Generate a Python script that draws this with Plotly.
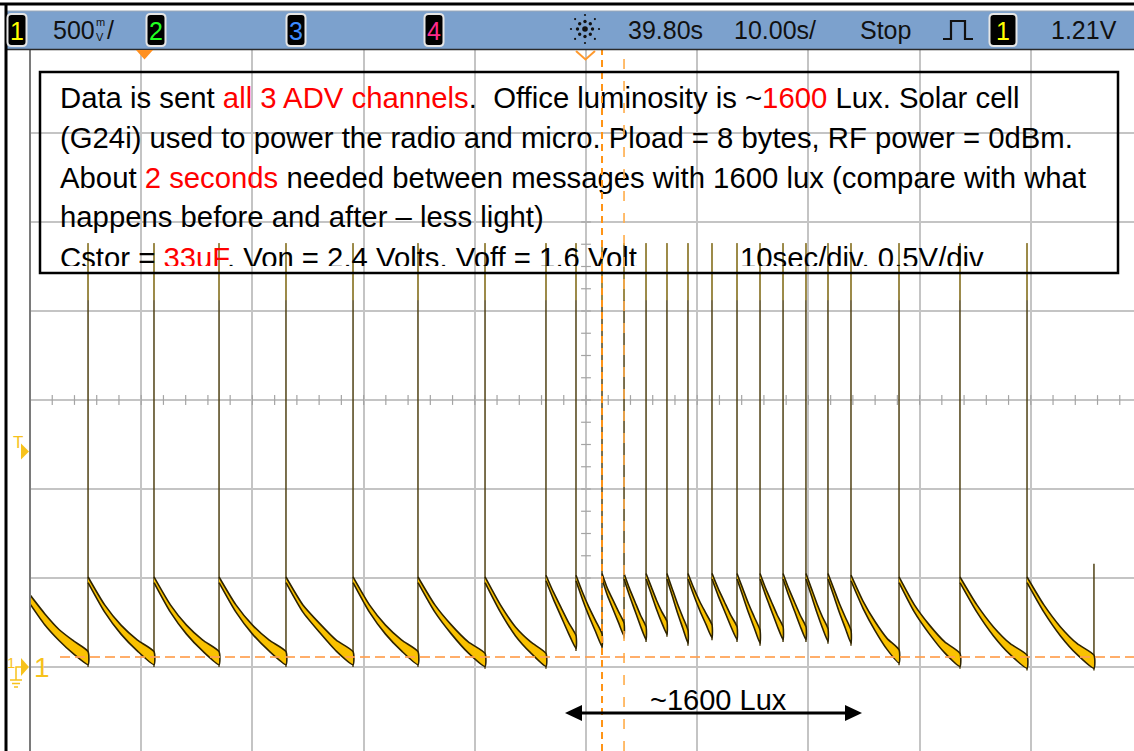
import numpy as np
import plotly.graph_objects as go

W, H = 1134, 751

# ---------------- values ----------------
# scope settings
t_center = 39.80      # s, horizontal delay (screen centre)
t_per_div = 10.0      # s/div
v_per_div = 0.5       # V/div
trig_level = 1.21     # V
cursor_t = [41.24, 43.22]   # s, vertical dashed cursors
cursor_v = 0.056            # V, horizontal dashed cursor

# times (s) of the radio bursts (vertical spikes)
spike_t = [-4.98, 0.95, 6.80, 12.82, 18.85, 24.69, 30.72, 36.20, 38.90, 41.24,
           43.22, 45.20, 47.08, 48.97, 51.13, 53.38, 55.45, 57.52, 59.58, 61.56,
           63.63, 67.95, 73.43, 79.46, 85.48]
# top of each spike (V)
spike_top_v = [2.38, 2.38, 2.38, 2.38, 2.38, 2.38, 2.38, 2.38, 2.38, 2.38,
               2.38, 2.38, 2.38, 2.38, 2.38, 2.38, 2.38, 2.38, 2.38, 2.38,
               2.38, 2.38, 2.38, 2.38, 0.58]
# voltage of each decay segment at 0 %, 25 %, 50 %, 75 % and 100 % of its length
v_0 = [0.38, 0.49, 0.49, 0.49, 0.49, 0.49, 0.49, 0.49, 0.50, 0.50, 0.51, 0.51, 0.51,
       0.51, 0.51, 0.51, 0.51, 0.51, 0.51, 0.51, 0.51, 0.50, 0.49, 0.49, 0.49]
v_25 = [0.27, 0.33, 0.33, 0.33, 0.33, 0.33, 0.33, 0.33, 0.40, 0.40, 0.42, 0.42, 0.43,
        0.42, 0.42, 0.42, 0.42, 0.42, 0.42, 0.42, 0.42, 0.35, 0.33, 0.33, 0.33]
v_50 = [0.18, 0.21, 0.21, 0.21, 0.22, 0.21, 0.21, 0.20, 0.31, 0.31, 0.35, 0.34, 0.35,
        0.33, 0.34, 0.34, 0.33, 0.34, 0.34, 0.33, 0.33, 0.23, 0.21, 0.20, 0.20]
v_75 = [0.11, 0.12, 0.12, 0.12, 0.12, 0.12, 0.11, 0.11, 0.22, 0.23, 0.28, 0.26, 0.28,
        0.25, 0.27, 0.26, 0.25, 0.26, 0.26, 0.25, 0.25, 0.13, 0.11, 0.10, 0.10]
v_100 = [0.05, 0.05, 0.05, 0.05, 0.05, 0.05, 0.04, 0.04, 0.14, 0.15, 0.21, 0.19, 0.22,
         0.17, 0.20, 0.19, 0.17, 0.19, 0.19, 0.18, 0.17, 0.06, 0.04, 0.03, 0.03]

# header readouts
hdr_scale = "500"
hdr_delay = "39.80s"
hdr_timebase = "10.00s/"
hdr_state = "Stop"
hdr_trig = "1.21V"

RED = "#ff0000"
box_lines = [
    'Data is sent <span style="color:%s">all 3 ADV channels</span>.\u00a0 Office luminosity is ~<span style="color:%s">1600</span> Lux. Solar cell' % (RED, RED),
    '(G24i) used to power the radio and micro. Pload = 8 bytes, RF power = 0dBm.',
    'About <span style="color:%s">2 seconds</span> needed between messages with 1600 lux (compare with what' % RED,
    'happens before and after \u2013 less light)',
    'Cstor = <span style="color:%s">33uF</span>. Von = 2.4 Volts. Voff = 1.6 Volt' % RED,
]
box_line5b = '10sec/div. 0.5V/div'
arrow_label = '~1600 Lux'

# ---------------- geometry of the screen (pixels) ----------------
GX0 = 30            # left edge of graticule
PX_DIV_X = 111.2    # pixels per horizontal division
PX_DIV_Y = 89.0     # pixels per vertical division
Y_GND = 667         # pixel row of 0 V
GY_TOP = 45         # top of graticule

px_per_s = PX_DIV_X / t_per_div
px_per_v = PX_DIV_Y / v_per_div
t_left = t_center - 5 * t_per_div
x_range = [t_left, t_left + (W - GX0) / px_per_s]
y_range = [(Y_GND - H) / px_per_v, (Y_GND - GY_TOP) / px_per_v]


def PX(x):
    return x / W


def PY(y):
    return 1 - y / H


GOLD = "#f7c21b"
FONT = "Liberation Sans, Arial, sans-serif"
HFONT = "Liberation Sans, Arial, sans-serif"

# ---------------- waveform ----------------
seg_start = [x_range[0]] + spike_t[:-1]
seg_end = spike_t
fracs = [0.0, 0.25, 0.5, 0.75, 1.0]
band_halfwidth_px = [2.8, 3.6, 4.5, 5.5, 6.5]   # display persistence band (style)
bx, by = [], []
for i in range(len(seg_start)):
    vals = [v_0[i], v_25[i], v_50[i], v_75[i], v_100[i]]
    xs = [seg_start[i] + f * (seg_end[i] - seg_start[i]) for f in fracs]
    if i == 0:
        hws = [band_halfwidth_px[2], band_halfwidth_px[3], band_halfwidth_px[3],
               band_halfwidth_px[4], band_halfwidth_px[4]]
    else:
        hws = band_halfwidth_px
    up = [(x, v + hw / px_per_v) for x, v, hw in zip(xs, vals, hws)]
    lo = [(x, v - hw / px_per_v) for x, v, hw in zip(xs, vals, hws)]
    poly_pts = up + lo[::-1]
    bx += [p[0] for p in poly_pts] + [None]
    by += [p[1] for p in poly_pts] + [None]

sx, sy, tx, ty = [], [], [], []
for k, t in enumerate(spike_t):
    bottom = v_100[k] - 0.05
    sx += [t, t, None]
    sy += [bottom, spike_top_v[k], None]
    if spike_top_v[k] > 2:
        tx += [t, t, None]
        ty += [spike_top_v[k], spike_top_v[k] - 0.32, None]

fig = go.Figure()
fig.add_trace(go.Scatter(x=sx, y=sy, mode="lines", line=dict(color="#4f4114", width=1.5),
                         hoverinfo="skip", showlegend=False))
fig.add_trace(go.Scatter(x=tx, y=ty, mode="lines", line=dict(color="#a89448", width=1.5),
                         hoverinfo="skip", showlegend=False))
fig.add_trace(go.Scatter(x=bx, y=by, mode="lines", fill="toself", fillcolor="#f9c100",
                         line=dict(color="#2e2300", width=1.6, shape="spline", smoothing=0.6),
                         hoverinfo="skip", showlegend=False))

# minor ticks on the centre lines
v_center = 3 * v_per_div   # centre row of the screen (1.5 V)
mt_x = [t_center + k * t_per_div / 5 for k in range(-25, 26)]
fig.add_trace(go.Scatter(x=mt_x, y=[v_center] * len(mt_x), mode="markers",
                         marker=dict(symbol="line-ns", size=7, line=dict(width=1.2, color="#a4a4a4")),
                         hoverinfo="skip", showlegend=False))
mt_y = [v_center + k * v_per_div / 4 for k in range(-8, 9)]
fig.add_trace(go.Scatter(x=[t_center] * len(mt_y), y=mt_y, mode="markers",
                         marker=dict(symbol="line-ew", size=7, line=dict(width=1.2, color="#a4a4a4")),
                         hoverinfo="skip", showlegend=False))

# text in the annotation box (clipped by its own subplot)
line_y = [101, 141, 180.5, 220, 260.5]
fig.add_trace(go.Scatter(x=[60] * 5, y=line_y, mode="text", text=box_lines,
                         textposition="middle right", cliponaxis=True,
                         textfont=dict(family=FONT, size=29.3, color="black"),
                         xaxis="x2", yaxis="y2", hoverinfo="skip", showlegend=False))
fig.add_trace(go.Scatter(x=[740], y=[260.5], mode="text", text=[box_line5b],
                         textposition="middle right", cliponaxis=True,
                         textfont=dict(family=FONT, size=29.3, color="black"),
                         xaxis="x2", yaxis="y2", hoverinfo="skip", showlegend=False))

shapes = []
# cursors
for t, col, dash, w in zip(cursor_t, ["#ff9416", "#ffad4a"], ["7px,5px", "10px,12px"], [2, 1.6]):
    shapes.append(dict(type="line", xref="x", yref="y", x0=t, x1=t, y0=y_range[0], y1=y_range[1],
                       line=dict(color=col, width=w, dash=dash), layer="above"))
shapes.append(dict(type="line", xref="x", yref="y", x0=t_left + (60 - GX0) / px_per_s, x1=x_range[1],
                   y0=cursor_v, y1=cursor_v,
                   line=dict(color="rgba(255,160,80,0.85)", width=2, dash="10px,5px"), layer="above"))
# graticule left edge
shapes.append(dict(type="line", xref="paper", yref="paper", x0=PX(GX0), x1=PX(GX0), y0=0, y1=PY(49),
                   line=dict(color="#7a7a7a", width=2), layer="above"))
# text box frame
shapes.append(dict(type="rect", xref="paper", yref="paper", x0=PX(40), x1=PX(1118), y0=PY(273), y1=PY(72),
                   line=dict(color="black", width=2.5), fillcolor="rgba(0,0,0,0)", layer="above"))
# header bar
shapes.append(dict(type="rect", xref="paper", yref="paper", x0=PX(7), x1=1.0, y0=PY(49), y1=PY(11),
                   line=dict(width=0), fillcolor="#7ca1cd", layer="above"))
shapes.append(dict(type="line", xref="paper", yref="paper", x0=PX(7), x1=1.0, y0=PY(49.5), y1=PY(49.5),
                   line=dict(color="#2a2a2a", width=1.5), layer="above"))
shapes.append(dict(type="line", xref="paper", yref="paper", x0=PX(7), x1=1.0, y0=PY(11), y1=PY(11),
                   line=dict(color="#9aa8b8", width=1), layer="above"))
# outer black frame lines
shapes.append(dict(type="line", xref="paper", yref="paper", x0=0, x1=1, y0=PY(4), y1=PY(4),
                   line=dict(color="black", width=3), layer="above"))
shapes.append(dict(type="line", xref="paper", yref="paper", x0=PX(6), x1=PX(6), y0=0, y1=PY(3),
                   line=dict(color="black", width=3), layer="above"))


def f5(v):
    return "%.5f" % v


def rrect(x0, y0, x1, y1, r):
    p = [("M", x0 + r, y0), ("L", x1 - r, y0), ("Q", x1, y0, x1, y0 + r), ("L", x1, y1 - r),
         ("Q", x1, y1, x1 - r, y1), ("L", x0 + r, y1), ("Q", x0, y1, x0, y1 - r), ("L", x0, y0 + r),
         ("Q", x0, y0, x0 + r, y0)]
    s = ""
    for c in p:
        if c[0] == "Q":
            s += "Q%s,%s %s,%s " % (f5(PX(c[1])), f5(PY(c[2])), f5(PX(c[3])), f5(PY(c[4])))
        else:
            s += "%s%s,%s " % (c[0], f5(PX(c[1])), f5(PY(c[2])))
    return s + "Z"


def poly(pts, close=True):
    s = "M" + " L".join("%s,%s" % (f5(PX(x)), f5(PY(y))) for x, y in pts)
    return s + (" Z" if close else "")


annotations = []


def ann(x, y, text, size, color="black", family=FONT, xanchor="left"):
    annotations.append(dict(xref="paper", yref="paper", x=PX(x), y=PY(y), text=text, showarrow=False,
                            xanchor=xanchor, yanchor="middle", borderpad=0,
                            font=dict(family=family, size=size, color=color)))


# channel badges
badges = [(17, 19, "1", "#ffff00"), (156, 19, "2", "#22ff22"), (296, 19, "3", "#3d8bff"),
          (434, 19, "4", "#ff2a8a"), (1003, 27, "1", "#ffff00")]
for cx, bw, lab, col in badges:
    shapes.append(dict(type="path", xref="paper", yref="paper",
                       path=rrect(cx - bw / 2, 14, cx + bw / 2, 46, 4),
                       fillcolor="black", line=dict(color="#e6e6e6", width=2), layer="above"))
    ann(cx, 30.5, lab, 25, col, HFONT, "center")

# header texts
ann(52, 29.5, hdr_scale, 25, "#111", HFONT)
ann(100, 22.5, "m", 11, "#111", FONT, "center")
ann(100, 36.5, "V", 11, "#111", FONT, "center")
ann(106, 29.5, "/", 25, "#111", HFONT)
ann(627, 29.5, hdr_delay, 25, "#111", HFONT)
ann(733, 29.5, hdr_timebase, 25, "#111", HFONT)
ann(859, 29.5, hdr_state, 25, "#111", HFONT)
ann(1050, 29.5, hdr_trig, 25, "#111", HFONT)

# trigger-mode pulse icon
shapes.append(dict(type="path", xref="paper", yref="paper",
                   path=poly([(943, 39), (951, 39), (951, 21), (965, 21), (965, 39), (973, 39)], False),
                   line=dict(color="#111", width=2.2), layer="above"))

# sunburst icon
cxs, cys = 585, 29
circles = [(0, 0, 2.8)]
for k in range(8):
    a = k * np.pi / 4
    circles.append((7.5 * np.cos(a), 7.5 * np.sin(a), 1.7))
    circles.append((14 * np.cos(a), 14 * np.sin(a), 1.1))
for ox, oy, r in circles:
    shapes.append(dict(type="circle", xref="paper", yref="paper",
                       x0=PX(cxs + ox - r), x1=PX(cxs + ox + r), y0=PY(cys + oy + r), y1=PY(cys + oy - r),
                       fillcolor="#111", line=dict(width=0), layer="above"))

# trigger position chevron and ch2 marker triangle
shapes.append(dict(type="path", xref="paper", yref="paper", path=poly([(576, 51), (585.5, 59.5), (595, 51)], False),
                   line=dict(color="#ff9a2e", width=2), layer="above"))
shapes.append(dict(type="path", xref="paper", yref="paper", path=poly([(136, 50), (153, 50), (144.5, 59.5)]),
                   fillcolor="#ff9020", line=dict(width=0), layer="above"))

# trigger level marker (T) and ground marker
y_trig = Y_GND - trig_level * px_per_v
ann(18, y_trig - 9, "T", 17, GOLD, FONT, "center")
shapes.append(dict(type="path", xref="paper", yref="paper",
                   path=poly([(21, y_trig - 8), (29, y_trig), (21, y_trig + 8)]),
                   fillcolor=GOLD, line=dict(width=0), layer="above"))
ann(11, Y_GND - 5, "1", 15, GOLD, FONT, "center")
shapes.append(dict(type="path", xref="paper", yref="paper",
                   path=poly([(21, Y_GND - 9), (29, Y_GND), (21, Y_GND + 9)]),
                   fillcolor=GOLD, line=dict(width=0), layer="above"))
shapes.append(dict(type="path", xref="paper", yref="paper",
                   path=poly([(21, Y_GND), (16, Y_GND), (16, Y_GND + 13)], False),
                   line=dict(color=GOLD, width=1.5), layer="above"))
for yy, hw in [(Y_GND + 13, 6), (Y_GND + 16.5, 4), (Y_GND + 20, 2)]:
    shapes.append(dict(type="line", xref="paper", yref="paper", x0=PX(16 - hw), x1=PX(16 + hw),
                       y0=PY(yy), y1=PY(yy), line=dict(color=GOLD, width=1.5), layer="above"))
ann(42, Y_GND, "1", 28, GOLD, FONT, "center")

# ~1600 Lux double arrow
ay = 713
shapes.append(dict(type="line", xref="paper", yref="paper", x0=PX(578), x1=PX(849), y0=PY(ay), y1=PY(ay),
                   line=dict(color="black", width=3), layer="above"))
shapes.append(dict(type="path", xref="paper", yref="paper", path=poly([(565, ay), (582, ay - 8), (582, ay + 8)]),
                   fillcolor="black", line=dict(width=0), layer="above"))
shapes.append(dict(type="path", xref="paper", yref="paper", path=poly([(862, ay), (845, ay - 8), (845, ay + 8)]),
                   fillcolor="black", line=dict(width=0), layer="above"))
ann(718, 700, arrow_label, 29, "black", FONT, "center")

fig.update_layout(
    width=W, height=H, margin=dict(l=0, r=0, t=0, b=0),
    paper_bgcolor="white", plot_bgcolor="rgba(0,0,0,0)",
    showlegend=False,
    xaxis=dict(domain=[PX(GX0), 1.0], range=x_range, tick0=t_center, dtick=t_per_div,
               showgrid=True, gridcolor="#c4c4c4", gridwidth=1.5, zeroline=False,
               showticklabels=False, ticks="", showline=False, fixedrange=True),
    yaxis=dict(domain=[0, PY(GY_TOP)], range=y_range, tick0=0, dtick=v_per_div,
               showgrid=True, gridcolor="#c4c4c4", gridwidth=1.5, zeroline=False,
               showticklabels=False, ticks="", showline=False, fixedrange=True),
    xaxis2=dict(domain=[PX(40), PX(1118)], range=[40, 1118], visible=False, anchor="y2", fixedrange=True),
    yaxis2=dict(domain=[PY(266), PY(72)], range=[266, 72], visible=False, anchor="x2", fixedrange=True),
    shapes=shapes, annotations=annotations,
)

fig.write_html("out.html", config={"displayModeBar": False},
               post_script="document.body.style.margin='0px';document.body.style.overflow='hidden';")
